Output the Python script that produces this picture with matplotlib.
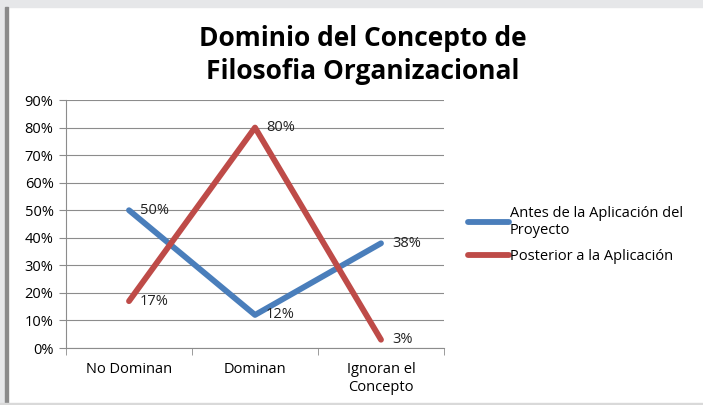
import numpy as np
import matplotlib.pyplot as plt
from matplotlib.patches import Rectangle
from matplotlib.ticker import PercentFormatter

categories = ['No Dominan', 'Dominan', 'Ignoran el\nConcepto']
antes = [50, 12, 38]
posterior = [17, 80, 3]
series_names = ['Antes de la Aplicación del\nProyecto', 'Posterior a la Aplicación']

plt.rcParams['font.family'] = ['Open Sans', 'DejaVu Sans']

fig = plt.figure(figsize=(7.03, 4.05), dpi=100)
W, H = 703, 405

# window frame around the chart
fig.patches.append(Rectangle((0, 1 - 7 / H), 1, 7 / H, transform=fig.transFigure,
                             color='#e6e7e9', zorder=-1))
fig.patches.append(Rectangle((0, 0), 5 / W, 1, transform=fig.transFigure,
                             color='#e6e7e9', zorder=-1))
fig.patches.append(Rectangle((5 / W, 0), 2.5 / W, 1 - 7 / H, transform=fig.transFigure,
                             color='#8a8a8a', zorder=0))
fig.patches.append(Rectangle((0, 0), 1, 2.5 / H, transform=fig.transFigure,
                             color='#d9d9d9', zorder=0))

ax = fig.add_axes([66 / W, 1 - 348 / H, 378 / W, 248 / H])
x = np.arange(len(categories))

l1, = ax.plot(x, antes, color='#4a7ebb', lw=4.2, solid_capstyle='round', zorder=3)
l2, = ax.plot(x, posterior, color='#be4b48', lw=4.2, solid_capstyle='round', zorder=3)

# data labels
for xi, v in zip(x, antes):
    ax.annotate(f'{v}%', (xi, v), xytext=(8, 0), textcoords='offset points',
                ha='left', va='center', fontsize=10.5, color='#222222')
for xi, v in zip(x, posterior):
    ax.annotate(f'{v}%', (xi, v), xytext=(8, 0), textcoords='offset points',
                ha='left', va='center', fontsize=10.5, color='#222222')

ax.set_xlim(-0.5, 2.5)
ax.set_ylim(0, 90)
ax.set_yticks(np.arange(0, 91, 10))
ax.yaxis.set_major_formatter(PercentFormatter(decimals=0))
ax.grid(axis='y', color='#8c8c8c', lw=0.8)
ax.set_axisbelow(True)

ax.set_xticks(x)
ax.set_xticklabels(categories, fontsize=10.5, linespacing=1.3)
ax.set_xticks([-0.5, 0.5, 1.5, 2.5], minor=True)
ax.tick_params(axis='x', which='major', length=0, pad=10)
ax.tick_params(axis='x', which='minor', length=5, color='#8c8c8c')
ax.tick_params(axis='y', length=5, color='#8c8c8c', labelsize=10.5, pad=4)

for s in ['top', 'right']:
    ax.spines[s].set_visible(False)
for s in ['left', 'bottom']:
    ax.spines[s].set_color('#8c8c8c')

fig.text(363 / W, 1 - 55 / H, 'Dominio del Concepto de\nFilosofia Organizacional',
         ha='center', va='center', fontsize=19, fontweight='bold', linespacing=1.25)

fig.legend([l1, l2], series_names, loc='center left',
           bbox_to_anchor=(455 / W, 1 - 235 / H), frameon=False, fontsize=10.5,
           handlelength=2.8, handletextpad=0.05, labelspacing=0.75)

fig.savefig('out.png', dpi=100)
